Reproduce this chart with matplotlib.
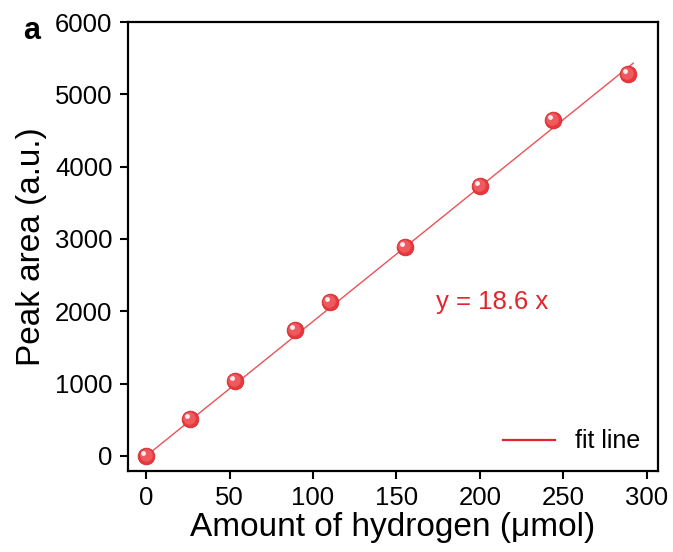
import matplotlib.pyplot as plt
from matplotlib.transforms import offset_copy
import numpy as np

plt.rcParams['font.family'] = ['Liberation Sans', 'DejaVu Sans']

amount = [0, 26, 53, 89, 110, 155, 200, 244, 289]
peak_area = [0, 510, 1035, 1745, 2125, 2885, 3735, 4645, 5285]
slope = 18.6
x_ticks = [0, 50, 100, 150, 200, 250, 300]
y_ticks = [0, 1000, 2000, 3000, 4000, 5000, 6000]

red = '#e8383d'

fig = plt.figure(figsize=(6.73, 5.52), dpi=100)
ax = fig.add_axes([0.19, 0.147, 0.788, 0.813])

xf = np.array([0, 292])
ax.plot(xf, slope * xf, color='#ec5257', lw=1.0, label='fit line', zorder=2)

# glossy sphere markers
ax.plot(amount, peak_area, 'o', ms=12, color=red, mec='#d02a30', mew=0.6, zorder=3)
ax.plot(amount, peak_area, 'o', ms=9, color='#ef5a5e', mec='none', zorder=3,
        transform=offset_copy(ax.transData, fig=fig, x=-0.5, y=0.8, units='points'))
ax.plot(amount, peak_area, 'o', ms=3.5, color='white', mec='none', alpha=0.9, zorder=4,
        transform=offset_copy(ax.transData, fig=fig, x=-2.0, y=2.2, units='points'))

ax.text(174, 2130, 'y = 18.6 x', color='#e0262c', fontsize=18.5, va='center')

ax.set_xlim(-11, 307)
ax.set_ylim(-207, 6000)
ax.set_xticks(x_ticks)
ax.set_yticks(y_ticks)
ax.tick_params(labelsize=18.5, width=1.5, length=6, direction='out', pad=5)
for s in ax.spines.values():
    s.set_linewidth(1.6)

ax.set_xlabel('Amount of hydrogen (μmol)', fontsize=24, labelpad=1)
ax.set_ylabel('Peak area (a.u.)', fontsize=24, labelpad=6)

leg = ax.legend(loc='lower right', frameon=False, fontsize=18, handlelength=2.1,
                borderaxespad=0.3)
leg.get_lines()[0].set_linewidth(1.6)
leg.get_lines()[0].set_color('#e0262c')

fig.text(0.035, 0.93, 'a', fontsize=22, fontweight='bold')

fig.savefig('out.png', dpi=100)
